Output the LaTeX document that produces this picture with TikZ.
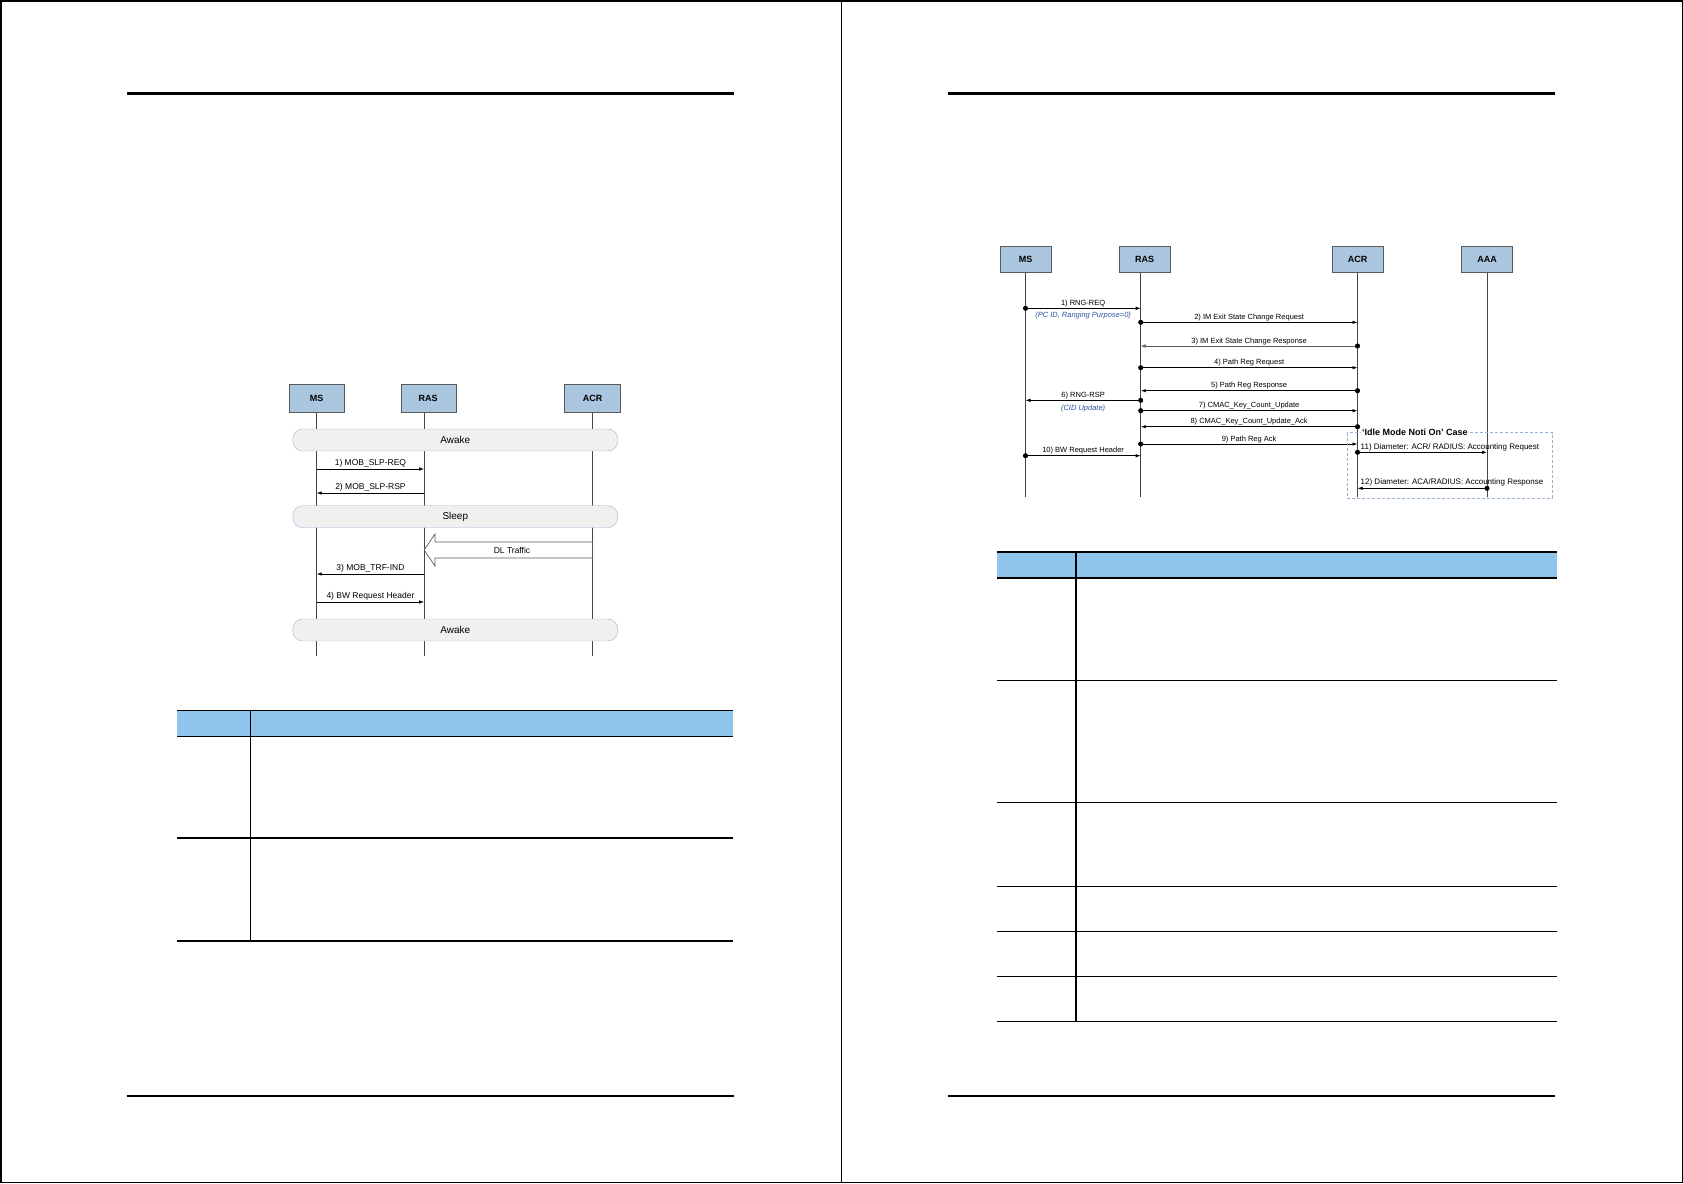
\documentclass[tikz,border=0pt]{standalone}
\usepackage{fontspec}
\setmainfont{Liberation Sans}
\usetikzlibrary{arrows.meta,positioning,calc}
\definecolor{partfill}{RGB}{170,197,222}
\definecolor{partline}{RGB}{90,90,90}
\definecolor{lifegray}{RGB}{70,70,70}
\definecolor{bandfill}{RGB}{240,240,240}
\definecolor{bandline}{RGB}{150,185,220}
\definecolor{headfill}{RGB}{143,197,234}
\definecolor{noteblue}{RGB}{47,82,160}
\definecolor{caseline}{RGB}{150,180,205}
\definecolor{arrowgray}{RGB}{90,90,90}

\begin{document}
\begin{tikzpicture}[x=1pt, y=-1pt,
    part/.style={draw=partline, fill=partfill, minimum width=51pt,
                 minimum height=26pt, inner sep=0pt,
                 font=\fontsize{9}{10}\selectfont\bfseries},
    life/.style={draw=lifegray, line width=0.9pt},
    band/.style={draw=bandline, fill=bandfill, rounded corners=10pt,
                 minimum height=22pt, inner sep=0pt,
                 font=\fontsize{10}{11}\selectfont},
    msg/.style={-{Latex[length=5pt,width=3.5pt]}, line width=0.8pt},
    dotmsg/.style={{Circle[length=5pt,color=black]}-{Latex[length=5pt,width=3.5pt]},
                   shorten <=-2.5pt, line width=0.8pt},
    lbl/.style={font=\fontsize{8.5}{9}\selectfont, inner sep=1pt},
    slbl/.style={font=\fontsize{7.5}{8}\selectfont, inner sep=1pt},
    note/.style={font=\fontsize{7.5}{8}\selectfont\itshape, text=noteblue,
                 inner sep=1pt},
    rule/.style={line width=2.5pt}
]
\useasboundingbox (0,0) rectangle (1683,1183);

% page frame
\draw[line width=1.5pt] (0.75,0.75) rectangle (1682.25,1182.25);
\draw[line width=1.2pt] (841.5,0) -- (841.5,1183);
\draw[rule] (126.6,93.4) -- (734,93.4);
\draw[rule] (126.6,1096) -- (734,1096);
\draw[rule] (947.7,93.4) -- (1555,93.4);
\draw[rule] (947.7,1096) -- (1555,1096);

% left page: sleep mode flow
\node[part, minimum width=55pt, minimum height=28pt] (ms1) at (316.7,398.3) {MS};
\node[part, minimum width=55pt, minimum height=28pt] (ras1) at (428.2,398.3) {RAS};
\node[part, minimum width=56pt, minimum height=28pt] (acr1) at (592.5,398.3) {ACR};
\coordinate (ms1L) at (ms1.south);
\coordinate (ras1L) at ([xshift=-4pt]ras1.south);
\coordinate (acr1L) at (acr1.south);
\coordinate (end1) at (0,655.7);
\draw[life] (ms1L) -- (ms1L |- end1);
\draw[life] (ras1L) -- (ras1L |- end1);
\draw[life] (acr1L) -- (acr1L |- end1);

\node[band, minimum width=325pt] (awake1) at (455.3,440) {Awake};
\node[band, minimum width=325pt] (sleep1) at (455.3,516.7) {Sleep};
\node[band, minimum width=325pt] (awake2) at (455.3,630) {Awake};

\draw[msg] (ms1L |- 0,469) -- (ras1L |- 0,469)
  node[lbl, midway, above] (m1) {1) MOB\_SLP-REQ};
\draw[msg] (ras1L |- 0,493) -- (ms1L |- 0,493)
  node[lbl, midway, above] (m2) {2) MOB\_SLP-RSP};
\draw[draw=arrowgray, fill=white, line width=0.7pt]
  (ras1L |- 0,550) -- (435,534) -- (435,542) -- (acr1L |- 0,542)
  -- (acr1L |- 0,558) -- (435,558) -- (435,566) -- cycle;
\node[lbl] (dl) at (512,550) {DL Traffic};
\draw[msg] (ras1L |- 0,574) -- (ms1L |- 0,574)
  node[lbl, midway, above] (m3) {3) MOB\_TRF-IND};
\draw[msg] (ms1L |- 0,602) -- (ras1L |- 0,602)
  node[lbl, midway, above] (m4) {4) BW Request Header};

% left page: table
\fill[headfill] (177,710.7) rectangle (733,736);
\draw[line width=0.8pt] (177,710.7) -- (733,710.7);
\draw[line width=1pt] (177,736) -- (733,736);
\draw[line width=1.8pt] (177,838) -- (733,838);
\draw[line width=1.8pt] (177,941) -- (733,941);
\draw[line width=0.9pt] (250.3,710.7) -- (250.3,941);

% right page: idle mode exit flow
\node[part] (ms2) at (1025.5,259.5) {MS};
\node[part] (ras2) at (1144.7,259.5) {RAS};
\node[part] (acr2) at (1357.5,259.5) {ACR};
\node[part] (aaa2) at (1487,259.5) {AAA};
\coordinate (ms2L) at (ms2.south);
\coordinate (ras2L) at ([xshift=-4pt]ras2.south);
\coordinate (acr2L) at (acr2.south);
\coordinate (aaa2L) at (aaa2.south);
\coordinate (end2) at (0,496.7);
\draw[life] (ms2L) -- (ms2L |- end2);
\draw[life] (ras2L) -- (ras2L |- end2);
\draw[life] (acr2L) -- (acr2L |- end2);
\draw[life] (aaa2L) -- (aaa2L |- end2);

\draw[dotmsg] (ms2L |- 0,308.3) -- (ras2L |- 0,308.3)
  node[slbl, midway, above] (r1) {1) RNG-REQ}
  node[note, midway, below=2.5pt] (r1n) {(PC ID, Ranging Purpose=0)};
\draw[dotmsg] (ras2L |- 0,322.3) -- (acr2L |- 0,322.3)
  node[slbl, midway, above] (r2) {2) IM Exit State Change Request};
\draw[dotmsg, line width=0.4pt, draw=arrowgray] (acr2L |- 0,346) -- (ras2L |- 0,346)
  node[slbl, midway, above] (r3) {3) IM Exit State Change Response};
\draw[dotmsg] (ras2L |- 0,367.7) -- (acr2L |- 0,367.7)
  node[slbl, midway, above] (r4) {4) Path Reg Request};
\draw[dotmsg] (acr2L |- 0,390.7) -- (ras2L |- 0,390.7)
  node[slbl, midway, above] (r5) {5) Path Reg Response};
\draw[dotmsg] (ras2L |- 0,400.3) -- (ms2L |- 0,400.3)
  node[slbl, midway, above] (r6) {6) RNG-RSP}
  node[note, midway, below=3pt] (r6n) {(CID Update)};
\draw[dotmsg] (ras2L |- 0,410.7) -- (acr2L |- 0,410.7)
  node[slbl, midway, above] (r7) {7) CMAC\_Key\_Count\_Update};
\draw[dotmsg] (acr2L |- 0,426.7) -- (ras2L |- 0,426.7)
  node[slbl, midway, above] (r8) {8) CMAC\_Key\_Count\_Update\_Ack};
\draw[dotmsg] (ras2L |- 0,444) -- (acr2L |- 0,444)
  node[slbl, midway, above] (r9) {9) Path Reg Ack};
\draw[dotmsg] (ms2L |- 0,455.7) -- (ras2L |- 0,455.7)
  node[slbl, midway, above] (r10) {10) BW Request Header};

% optional accounting case
\draw[caseline, line width=0.8pt, dash pattern=on 3pt off 2pt]
  (1347,432.7) rectangle (1552,498);
\node[anchor=west, fill=white, inner sep=1pt,
      font=\fontsize{9}{10}\selectfont\bfseries] (case) at (1361,432.7)
  {`Idle Mode Noti On' Case};
\draw[dotmsg] (acr2L |- 0,452.3) -- (aaa2L |- 0,452.3);
\node[slbl, font=\fontsize{8}{9}\selectfont, anchor=south west] (r11)
  at ([xshift=2pt]acr2L |- 0,452.8) {11) Diameter: ACR/ RADIUS: Accounting Request};
\draw[dotmsg] (aaa2L |- 0,488.3) -- (acr2L |- 0,488.3);
\node[slbl, font=\fontsize{8}{9}\selectfont, anchor=south west] (r12)
  at ([xshift=2pt]acr2L |- 0,487) {12) Diameter: ACA/RADIUS: Accounting Response};

% right page: table
\fill[headfill] (997,551.7) rectangle (1556.5,577.7);
\draw[line width=2pt] (997,551.7) -- (1556.5,551.7);
\draw[line width=2pt] (997,577.7) -- (1556.5,577.7);
\foreach \y in {680,802.3,886,931,976,1021}
  \draw[line width=1pt] (997,\y) -- (1556.5,\y);
\draw[line width=1.8pt] (1075.8,551.7) -- (1075.8,1021);
\end{tikzpicture}
\end{document}
